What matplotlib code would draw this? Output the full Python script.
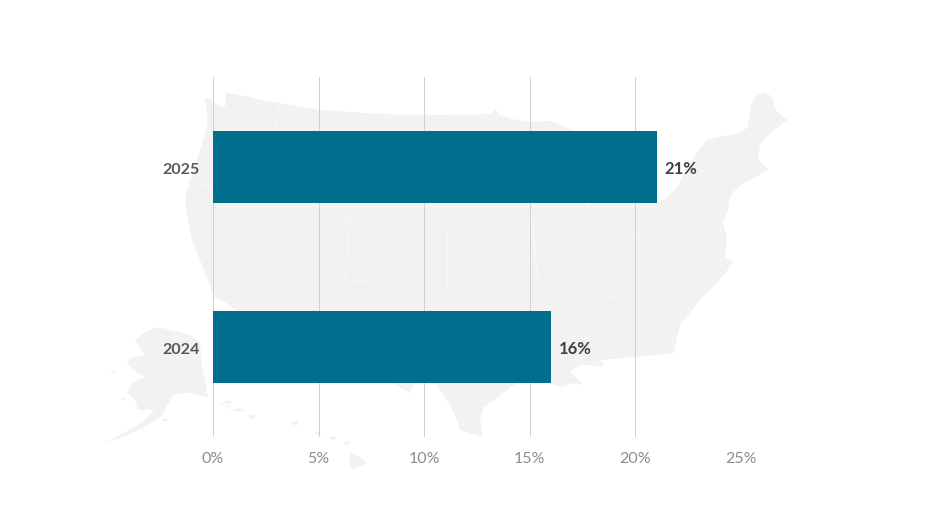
import matplotlib.pyplot as plt
from matplotlib.patches import Polygon, Ellipse
from matplotlib.transforms import ScaledTranslation

plt.rcParams['font.family'] = ['Lato', 'DejaVu Sans']

years = ['2024', '2025']
shares = [16, 21]
x_ticks = [0, 5, 10, 15, 20, 25]

# fondo decorativo, en pixeles de la imagen
lower48 = [(205, 97), (210, 99), (214, 103), (219, 105), (224, 108), (226, 103), (225, 92), (262, 100),
           (320, 110), (380, 114), (440, 115), (490, 114), (496, 109), (499, 115), (512, 119), (530, 122),
           (550, 121), (560, 125), (575, 131), (582, 203), (587, 206), (594, 203), (657, 203), (668, 196),
           (677, 187), (687, 168), (697, 153), (707, 140), (725, 136), (740, 133), (748, 127), (751, 105),
           (756, 96), (765, 92), (772, 97), (776, 110), (787, 120), (778, 127), (770, 133), (760, 145),
           (758, 160), (766, 167), (768, 170), (757, 176), (744, 183), (733, 192), (729, 200), (728, 210),
           (723, 222), (727, 240), (725, 257), (733, 262), (726, 272), (715, 285), (700, 300), (688, 315),
           (680, 325), (677, 337), (674, 353), (633, 357), (600, 360), (604, 367), (590, 365), (580, 365),
           (570, 372), (577, 378), (583, 385), (572, 383), (563, 387), (547, 383), (517, 383), (500, 395),
           (483, 408), (480, 420), (483, 437), (460, 430), (457, 420), (450, 405), (437, 385), (430, 383),
           (415, 382), (410, 393), (393, 383), (345, 355), (300, 345), (250, 318), (233, 308), (222, 300),
           (213, 297), (208, 280), (200, 260), (192, 240), (190, 230), (185, 203), (187, 190), (200, 150),
           (207, 127), (207, 115)]
alaska = [(158, 327), (170, 330), (190, 335), (200, 342), (202, 367), (208, 397), (217, 402), (237, 412),
          (240, 412), (210, 398), (190, 393), (183, 393), (173, 395), (162, 415), (145, 427), (123, 437),
          (105, 443), (137, 426), (155, 410), (138, 410), (135, 400), (128, 393), (132, 383), (145, 377),
          (133, 370), (127, 363), (130, 358), (145, 355), (135, 340), (145, 332)]
hawaii = [(350, 453), (358, 456), (367, 463), (358, 467), (353, 470), (349, 462)]
islas = [(295, 423, 7, 4), (318, 433, 5, 4), (333, 438, 7, 3), (347, 443, 6, 3), (228, 402, 7, 3),
         (240, 410, 9, 3), (252, 417, 7, 4), (165, 420, 5, 3), (123, 399, 5, 2), (113, 372, 5, 2)]
lineas = [[(280, 103), (275, 130)], [(190, 183), (213, 187)], [(330, 207), (330, 217), (417, 223)],
          [(350, 220), (345, 280), (430, 285)], [(447, 230), (447, 287)], [(567, 302), (633, 295)],
          [(640, 295), (677, 327)], [(530, 205), (540, 300)], [(600, 240), (690, 225)]]

fig = plt.figure(figsize=(9.25, 5.21), dpi=100, facecolor='white')

ax_map = fig.add_axes([0, 0, 1, 1])
ax_map.set_xlim(0, 925)
ax_map.set_ylim(521, 0)
ax_map.axis('off')
ax_map.add_patch(Polygon(lower48, closed=True, fc='#f2f2f2', ec='none'))
ax_map.add_patch(Polygon(alaska, closed=True, fc='#f2f2f2', ec='none'))
ax_map.add_patch(Polygon(hawaii, closed=True, fc='#f2f2f2', ec='none'))
for x0, y0, w, h in islas:
    ax_map.add_patch(Ellipse((x0, y0), w, h, fc='#f2f2f2', ec='none'))
for l in lineas:
    ax_map.plot([p[0] for p in l], [p[1] for p in l], color='#f8f8f8', lw=0.8)

ax = fig.add_axes([213 / 925, 1 - 437 / 521, 528 / 925, 360 / 521])
ax.patch.set_alpha(0)
bars = ax.barh(years, shares, height=0.4, color='#006e8c')
ax.set_xlim(0, 25)
ax.set_ylim(-0.5, 1.5)
ax.set_xticks(x_ticks, [f'{t}%' for t in x_ticks])
ax.xaxis.grid(True, color='#d0d0d0', lw=0.72)
ax.set_axisbelow(True)
ax.tick_params(axis='x', length=0, pad=10.5, labelsize=11.5, labelcolor='#8c8c8c')
ax.tick_params(axis='y', length=0, pad=9.5, labelsize=11.5, labelcolor='#595959')
bajar = ScaledTranslation(0, -1.2 / 72, fig.dpi_scale_trans)
for lab in ax.get_yticklabels():
    lab.set_fontweight('bold')
    lab.set_transform(lab.get_transform() + bajar)
for s in ax.spines.values():
    s.set_visible(False)

for b, v in zip(bars, shares):
    ax.annotate(f'{v}%', (v, b.get_y() + b.get_height() / 2), xytext=(6, -1.5), textcoords='offset points',
                va='center', ha='left', fontsize=12, fontweight='bold', color='#404040')

fig.savefig('out.png', dpi=100)
